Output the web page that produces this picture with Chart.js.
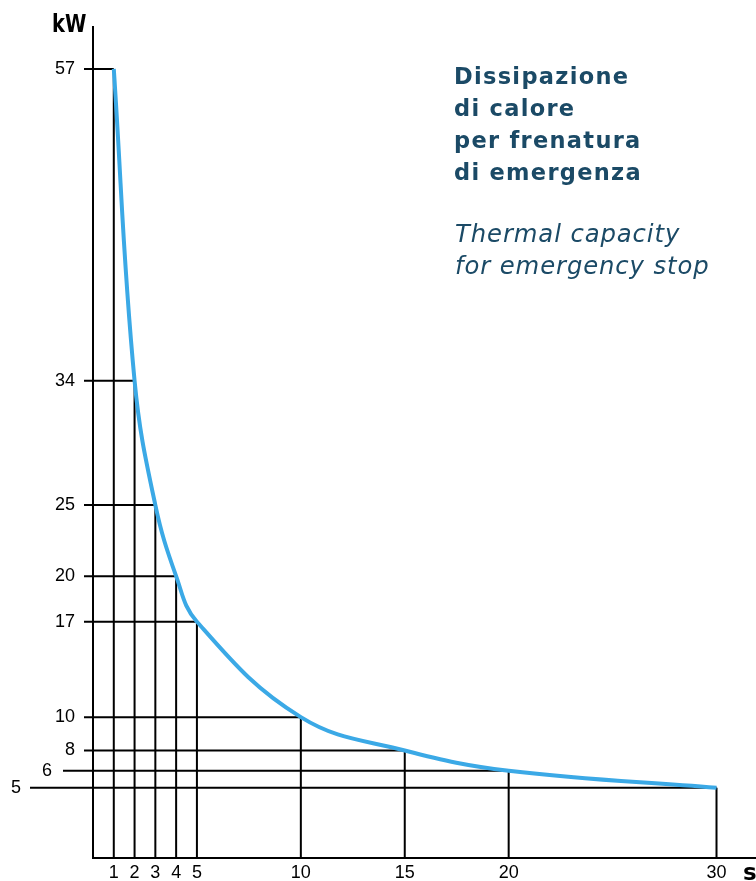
<!DOCTYPE html>
<html>
<head>
<meta charset="utf-8">
<script src="https://cdn.jsdelivr.net/npm/chart.js@4"></script>
<style>
  html, body { margin: 0; padding: 0; background: #fff; }
  #wrap { position: relative; width: 756px; height: 881px; overflow: hidden; }
  canvas { position: absolute; left: 0; top: 0; }
  .txt { position: absolute; white-space: nowrap; color: #1b4a66; font-family: "DejaVu Sans", sans-serif; }
  #title { left: 454px; top: 59.5px; font-weight: 700; font-size: 22.5px; line-height: 32px; letter-spacing: 1.3px; }
  #subtitle { left: 455px; top: 217.5px; font-style: italic; font-size: 24.3px; line-height: 32px; letter-spacing: 0.9px; }
  .axl { position: absolute; color: #000; font-family: "DejaVu Sans", sans-serif; font-weight: 700; line-height: 22px; transform-origin: 0 0; }
  #kw { left: 52px; top: 12.7px; font-size: 24px; transform: scaleX(0.81); }
  #s { left: 743px; top: 861px; font-size: 23px; }
</style>
</head>
<body>
<div id="wrap">
  <canvas id="c" width="756" height="881"></canvas>
  <div id="title" class="txt">Dissipazione<br>di calore<br>per frenatura<br>di emergenza</div>
  <div id="subtitle" class="txt">Thermal capacity<br>for emergency stop</div>
  <div id="kw" class="axl">kW</div>
  <div id="s" class="axl">s</div>
</div>
<script>
// ---- data ----
const seconds   = [1, 2, 3, 4, 5, 10, 15, 20, 30];
const kilowatts = [57, 34, 25, 20, 17, 10, 8, 6, 5];
const xTickValues = [1, 2, 3, 4, 5, 10, 15, 20, 30];
const yTickValues = [5, 6, 8, 10, 17, 20, 25, 34, 57];

// ---- axis calibration: the original's kW axis is hand-spaced (not strictly linear).
// Each labelled value is mapped to where the original axis places it (in axis units).
const axisCalValue = [0, 5,    6,    8,    10,    17,    20,    25,    34,    57,    60];
const axisCalPos   = [0, 5.07, 6.30, 7.76, 10.17, 17.06, 20.35, 25.48, 34.46, 56.97, 60];

function interp(v, from, to) {
  if (v <= from[0]) return to[0] + (v - from[0]) * (to[1] - to[0]) / (from[1] - from[0]);
  for (let i = 1; i < from.length; i++) {
    if (v <= from[i]) {
      const t = (v - from[i - 1]) / (from[i] - from[i - 1]);
      return to[i - 1] + t * (to[i] - to[i - 1]);
    }
  }
  const n = from.length - 1;
  return to[n] + (v - from[n]) * (to[n] - to[n - 1]) / (from[n] - from[n - 1]);
}

class CalibratedScale extends Chart.LinearScale {
  getPixelForValue(value) {
    return super.getPixelForValue(interp(value, axisCalValue, axisCalPos));
  }
  getValueForPixel(pixel) {
    return interp(super.getValueForPixel(pixel), axisCalPos, axisCalValue);
  }
}
CalibratedScale.id = 'calibrated';
CalibratedScale.defaults = Chart.LinearScale.defaults;
Chart.register(CalibratedScale);

// style: how far each horizontal reference line reaches left of the y axis
const leftReach = { 6: 30, 5: 63 };
const defaultReach = 9;
// label offsets (extra spacing) for ticks whose lines reach further left
const labelPad = { 6: '\u2002\u2002 ', 5: '\u2002\u2002\u2002\u2002\u2002\u2002' };

const dropLines = {
  id: 'dropLines',
  beforeDatasetsDraw(chart) {
    const ctx = chart.ctx, xs = chart.scales.x, ys = chart.scales.y;
    ctx.save();
    ctx.strokeStyle = '#000';
    ctx.lineWidth = 2;
    ctx.lineCap = 'butt';
    for (let i = 0; i < seconds.length; i++) {
      const px = xs.getPixelForValue(seconds[i]);
      const py = ys.getPixelForValue(kilowatts[i]);
      const reach = leftReach[kilowatts[i]] !== undefined ? leftReach[kilowatts[i]] : defaultReach;
      ctx.beginPath();
      ctx.moveTo(xs.left - reach, py);
      ctx.lineTo(px, py);
      ctx.moveTo(px, py);
      ctx.lineTo(px, ys.bottom);
      ctx.stroke();
    }
    ctx.restore();
  }
};

new Chart(document.getElementById('c'), {
  type: 'line',
  data: {
    datasets: [{
      data: seconds.map((s, i) => ({ x: s, y: kilowatts[i] })),
      borderColor: '#3ba9e6',
      borderWidth: 4,
      pointRadius: 0,
      tension: 0.4,
      fill: false,
      clip: false
    }]
  },
  options: {
    responsive: false,
    animation: false,
    layout: { padding: { top: 27, right: 0, left: 0, bottom: 0 } },
    plugins: { legend: { display: false }, tooltip: { enabled: false }, title: { display: false } },
    scales: {
      x: {
        type: 'linear', min: 0, max: 31.9,
        afterBuildTicks: s => { s.ticks = xTickValues.map(v => ({ value: v })); },
        afterFit: s => { s.height = 23; s.paddingLeft = 0; s.paddingRight = 0; },
        grid: { display: false, drawTicks: false },
        border: { display: true, color: '#000', width: 2 },
        ticks: { color: '#000', padding: 4, autoSkip: false, maxRotation: 0,
                 font: { family: 'Liberation Sans', size: 18 } }
      },
      y: {
        type: 'calibrated', min: 0, max: 60,
        afterBuildTicks: s => { s.ticks = yTickValues.map(v => ({ value: v })); },
        afterFit: s => { s.width = 93; s.paddingTop = 0; s.paddingBottom = 0; },
        grid: { display: false, drawTicks: false },
        border: { display: true, color: '#000', width: 2 },
        ticks: { color: '#000', padding: 18, autoSkip: false,
                 callback: v => String(v) + (labelPad[v] || ''),
                 font: { family: 'Liberation Sans', size: 18 } }
      }
    }
  },
  plugins: [dropLines]
});
</script>
</body>
</html>
